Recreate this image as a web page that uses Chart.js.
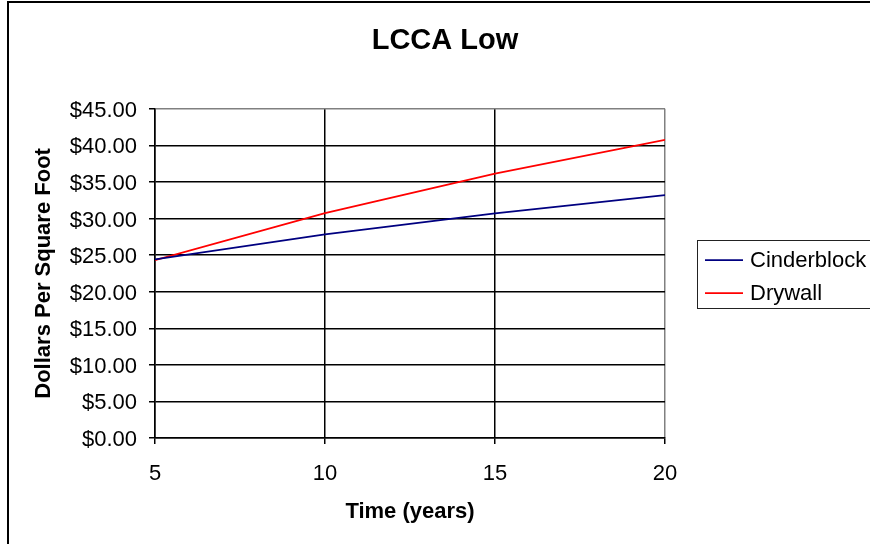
<!DOCTYPE html>
<html>
<head>
<meta charset="utf-8">
<script src="https://cdn.jsdelivr.net/npm/chart.js@4/dist/chart.umd.min.js"></script>
<style>
  html, body { margin: 0; padding: 0; background: #fff; }
  canvas { display: block; }
</style>
</head>
<body>
<canvas id="chart" width="870" height="544"></canvas>
<script>
// Life-cycle cost per square foot over time
const years = [5, 10, 15, 20];
const cinderblock = [24.4, 27.85, 30.7, 33.2];
const drywall = [24.3, 30.75, 36.15, 40.75];
const seriesNames = ['Cinderblock', 'Drywall'];
const chartTitle = 'LCCA Low';
const xTitle = 'Time (years)';
const yTitle = 'Dollars Per Square Foot';

const FONT = "'Liberation Sans', Arial, Helvetica, sans-serif";
Chart.defaults.font.family = FONT;
Chart.defaults.color = '#000';

const toPoints = (xs, ys) => xs.map((x, i) => ({ x, y: ys[i] }));

// Outer frame of the chart object
const framePlugin = {
  id: 'frame',
  beforeDraw(chart) {
    const ctx = chart.ctx;
    ctx.save();
    ctx.fillStyle = '#fff';
    ctx.fillRect(0, 0, chart.width, chart.height);
    ctx.strokeStyle = '#000';
    ctx.lineWidth = 2;
    ctx.strokeRect(8, 2, 900, 600);
    ctx.restore();
  }
};

// Boxed legend to the right of the plot
const boxLegendPlugin = {
  id: 'boxLegend',
  afterDraw(chart) {
    const ctx = chart.ctx;
    const left = 697, top = 240, bottom = 308;
    ctx.save();
    ctx.strokeStyle = '#222';
    ctx.lineWidth = 1;
    ctx.strokeRect(left + 0.5, top + 0.5, 400, bottom - top);
    ctx.font = '22px ' + FONT;
    ctx.textBaseline = 'middle';
    ctx.textAlign = 'left';
    const rows = [260, 293];
    chart.data.datasets.forEach((ds, i) => {
      const y = rows[i];
      ctx.strokeStyle = ds.borderColor;
      ctx.lineWidth = 1.75;
      ctx.beginPath();
      ctx.moveTo(705, y);
      ctx.lineTo(743, y);
      ctx.stroke();
      ctx.fillStyle = '#000';
      ctx.fillText(ds.label, 750, y + 1);
    });
    ctx.restore();
  }
};

new Chart(document.getElementById('chart'), {
  type: 'line',
  data: {
    datasets: [
      {
        label: seriesNames[0],
        data: toPoints(years, cinderblock),
        borderColor: '#000080',
        backgroundColor: '#000080',
        borderWidth: 1.75,
        pointRadius: 0,
        tension: 0
      },
      {
        label: seriesNames[1],
        data: toPoints(years, drywall),
        borderColor: '#ff0000',
        backgroundColor: '#ff0000',
        borderWidth: 1.75,
        pointRadius: 0,
        tension: 0
      }
    ]
  },
  options: {
    responsive: false,
    animation: false,
    events: [],
    layout: { padding: { left: 20, right: 0, top: 0, bottom: 0 } },
    plugins: {
      legend: { display: false },
      tooltip: { enabled: false },
      title: {
        display: true,
        text: chartTitle,
        color: '#000',
        font: { size: 29, weight: 'bold' },
        padding: { top: 24, bottom: 50 }
      }
    },
    scales: {
      x: {
        type: 'linear',
        min: 5,
        max: 20,
        ticks: {
          stepSize: 5,
          padding: 17,
          color: '#000',
          font: { size: 22 },
          maxRotation: 0
        },
        grid: {
          color: c => (c.tick && c.tick.value === 20 ? '#808080' : '#000'),
          lineWidth: 1.5,
          tickLength: 6,
          tickColor: '#000'
        },
        border: { display: true, color: '#000', width: 1.5 },
        title: {
          display: true,
          text: xTitle,
          color: '#000',
          font: { size: 22, weight: 'bold' },
          padding: { top: 0, bottom: 19 }
        },
        afterFit: s => { s.height = 106; }
      },
      y: {
        min: 0,
        max: 45,
        ticks: {
          stepSize: 5,
          padding: 12,
          labelOffset: 2,
          color: '#000',
          font: { size: 22 },
          callback: v => '$' + Number(v).toFixed(2)
        },
        grid: {
          color: c => (c.tick && c.tick.value === 45 ? '#808080' : '#000'),
          lineWidth: 1.5,
          tickLength: 6,
          tickColor: '#000'
        },
        border: { display: true, color: '#000', width: 1.5 },
        title: {
          display: true,
          text: yTitle,
          color: '#000',
          font: { size: 22, weight: 'bold' },
          padding: { top: 11, bottom: 0 }
        },
        afterFit: s => { s.width = 135; }
      },
      // empty band on the right that holds the legend area
      side: {
        position: 'right',
        display: true,
        grid: { display: false },
        ticks: { display: false },
        border: { display: false },
        afterFit: s => { s.width = 205; }
      }
    }
  },
  plugins: [framePlugin, boxLegendPlugin]
});
</script>
</body>
</html>
